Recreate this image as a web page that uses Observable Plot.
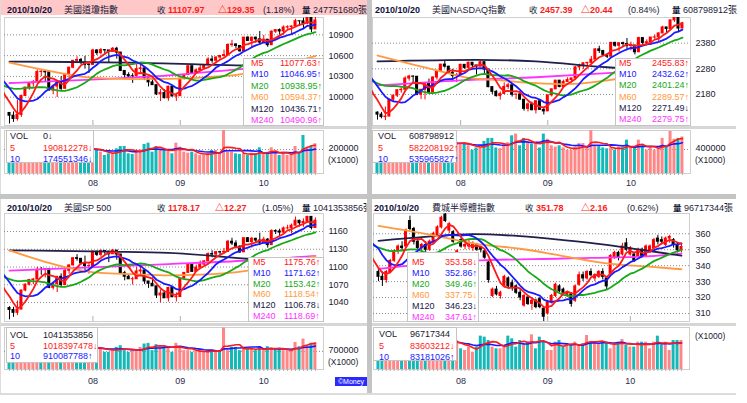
<!DOCTYPE html>
<html><head><meta charset="utf-8">
<script src="https://cdn.jsdelivr.net/npm/d3@7"></script>
<script src="https://cdn.jsdelivr.net/npm/@observablehq/plot@0.6"></script>
<style>
html,body{margin:0;padding:0;background:#fff;}
#root{position:relative;width:747px;height:403px;overflow:hidden;background:#fff;font-family:"Liberation Sans",Arial,"Noto Sans CJK TC",sans-serif;font-size:9px;color:#111;}
#root > *{position:absolute;}
.s{position:absolute;white-space:nowrap;}
</style></head><body><div id="root"></div>
<script>
// ---------- shared labels ----------
const DATE = "2010/10/20";
const MONTH_IDX = [21, 43, 64];
const MONTH_LABELS = ["08", "09", "10"];
const MA_NAMES = ["M5", "M10", "M20", "M60", "M120", "M240"];

// ---------- Dow Jones ----------
const djiHead = ["美國道瓊指數", "11107.97", "△129.35", "(1.18%)", "247751680張"];
const djiLegend = ["11077.63↑", "11046.95↑", "10938.95↑", "10594.37↑", "10436.71↑", "10490.96↑"];
const djiVLegend = ["0↓", "190812278↓", "174551346↓"];
const djiTicks = [10000, 10300, 10600, 10900];
const djiVTicks = [200000];
const djiPrior = [9931, 9816, 9940, 9899, 10172, 10211, 10191, 10405, 10409, 10434, 10450, 10443, 10294, 10298, 10153, 10144, 10138, 9870, 9774];
const djiOHLC = [
[9773,9775,9614,9733],[9733,9788,9637,9686],[9686,9957,9656,9744],[9744,10030,9710,10018],[10018,10144,10018,10139],
[10139,10208,10100,10198],[10198,10240,10146,10216],[10216,10394,10216,10363],[10363,10399,10296,10367],[10367,10380,10220,10359],
[10359,10359,10089,10098],[10098,10180,10035,10154],[10154,10241,9995,10230],[10230,10297,10095,10121],[10121,10344,10121,10322],
[10322,10433,10270,10425],[10425,10526,10410,10525],[10525,10584,10496,10538],[10538,10560,10470,10498],[10498,10590,10405,10467],
[10467,10500,10342,10466],[10466,10692,10466,10674],[10674,10686,10601,10636],[10636,10703,10610,10680],[10680,10680,10607,10675],
[10675,10675,10500,10654],[10654,10719,10650,10699],[10699,10720,10550,10644],[10644,10644,10370,10379],[10379,10379,10260,10320],
[10320,10353,10280,10303],[10303,10340,10200,10302],[10302,10480,10302,10406],[10406,10460,10350,10416],[10416,10416,10240,10271],
[10271,10271,10148,10214],[10214,10275,10170,10174],[10174,10174,10024,10040],[10040,10110,9937,10060],[10060,10110,9975,9986],
[9986,10160,9941,10151],[10151,10155,10009,10010],[10010,10060,9940,10015],[10015,10271,10015,10269],[10269,10320,10249,10320],
[10320,10448,10320,10448],[10448,10448,10334,10341],[10341,10410,10340,10387],[10387,10470,10387,10415],[10415,10467,10390,10463],
[10463,10570,10463,10544],[10544,10590,10490,10526],[10526,10580,10480,10573],[10573,10598,10530,10595],[10595,10680,10580,10608],
[10608,10770,10608,10754],[10754,10820,10720,10761],[10761,10770,10700,10739],[10739,10739,10650,10662],[10662,10860,10662,10860],
[10860,10873,10812,10812],[10812,10870,10710,10858],[10858,10870,10780,10835],[10835,10948,10750,10788],[10788,10890,10788,10830],
[10830,10830,10720,10751],[10751,10959,10751,10945],[10945,10975,10920,10968],[10968,10985,10895,10949],[10949,11029,10900,11006],
[11006,11030,10980,11010],[11010,11030,10900,11020],[11020,11124,11020,11096],[11096,11096,11020,11095],[11095,11140,10980,11063],
[11063,11157,11044,11144],[11144,11144,10930,10979],[10979,11160,10979,11108]];
const djiM60 = [[0,10500],[10,10380],[20,10285],[30,10262],[40,10265],[50,10290],[58,10330],[68,10460],[77,10594.37]];
const djiM120 = [[0,10514],[30,10500],[57,10460],[77,10436.71]];
const djiM240 = [[0,10205],[22,10257],[40,10314],[56,10395],[77,10490.96]];
const djiVol = [190000,170000,200000,230000,210000,180000,175000,215000,205000,220000,260000,200000,215000,225000,200000,185000,180000,195000,200000,210000,215000,205000,
191700,177800,150000,163900,163900,205600,225000,225000,163900,158300,177800,197200,241700,252800,177800,225000,191700,186100,191700,163900,252800,219400,177800,169400,177800,163900,150000,150000,163900,191700,191700,169400,360000,177800,177800,163900,158300,163900,150000,169400,163900,213900,163900,163900,213900,177800,150000,169400,150000,158300,225000,169400,316700,219400,225000,247752];

// ---------- NASDAQ ----------
const ixicHead = ["美國NASDAQ指數", "2457.39", "△20.44", "(0.84%)", "608798912張"];
const ixicLegend = ["2455.83↑", "2432.62↑", "2401.24↑", "2289.57↑", "2271.49↓", "2279.75↑"];
const ixicVLegend = ["608798912", "582208192↑", "535965827↑"];
const ixicTicks = [2180, 2280, 2380];
const ixicVTicks = [400000];
const ixicPrior = [2219.2, 2173.9, 2170.6, 2158.9, 2218.7, 2243.6, 2244.0, 2305.9, 2305.9, 2307.2, 2309.8, 2289.1, 2261.8, 2254.2, 2217.4, 2223.5, 2220.7, 2135.2, 2109.2];
const ixicOHLC = [
[2109.2,2112,2080,2101.4],[2101.4,2110,2085,2091.8],[2091.8,2131,2078,2093.9],[2093.9,2160,2093,2159.5],[2159.5,2176,2151,2175.4],
[2175.4,2197,2168,2196.5],[2196.5,2205,2185,2198.4],[2198.4,2249,2198,2242.0],[2242.0,2255,2232,2249.8],[2249.8,2252,2220,2249.1],
[2249.1,2249,2175,2179.1],[2179.1,2199,2160,2198.2],[2198.2,2223,2159,2222.5],[2222.5,2240,2185,2187.3],[2187.3,2250,2187,2245.9],
[2245.9,2271,2236,2269.5],[2269.5,2297,2265,2296.4],[2296.4,2311,2283,2288.3],[2288.3,2290,2262,2264.6],[2264.6,2278,2230,2251.7],
[2251.7,2262,2226,2254.7],[2254.7,2298,2254,2295.4],[2295.4,2297,2278,2283.5],[2283.5,2306,2279,2303.6],[2303.6,2304,2284,2293.1],
[2293.1,2293,2256,2288.5],[2288.5,2310,2288,2305.7],[2305.7,2306,2260,2277.2],[2277.2,2277,2206,2208.6],[2208.6,2210,2180,2190.3],
[2190.3,2195,2170,2173.5],[2173.5,2190,2158,2181.9],[2181.9,2225,2181,2209.4],[2209.4,2224,2200,2215.7],[2215.7,2218,2170,2179.0],
[2179.0,2181,2160,2179.8],[2179.8,2192,2158,2159.6],[2159.6,2160,2115,2123.8],[2123.8,2147,2112,2141.5],[2141.5,2150,2116,2118.7],
[2118.7,2155,2104,2153.6],[2153.6,2154,2119,2120.0],[2120.0,2125,2100,2114.0],[2114.0,2177,2114,2176.8],[2176.8,2201,2170,2200.0],
[2200.0,2235,2200,2233.8],[2233.8,2234,2206,2208.9],[2208.9,2236,2208,2228.9],[2228.9,2245,2228,2236.2],[2236.2,2243,2225,2242.5],
[2242.5,2288,2242,2285.7],[2285.7,2298,2272,2289.8],[2289.8,2304,2278,2301.3],[2301.3,2305,2292,2303.3],[2303.3,2328,2300,2315.6],
[2315.6,2358,2315,2355.8],[2355.8,2368,2340,2349.4],[2349.4,2352,2328,2334.4],[2334.4,2340,2320,2327.1],[2327.1,2382,2327,2381.2],
[2381.2,2383,2364,2369.8],[2369.8,2381,2345,2379.6],[2379.6,2384,2366,2376.6],[2376.6,2398,2356,2368.6],[2368.6,2384,2350,2370.8],
[2370.8,2371,2334,2344.5],[2344.5,2403,2344,2399.8],[2399.8,2401,2370,2380.7],[2380.7,2393,2369,2383.7],[2383.7,2402,2371,2401.9],
[2401.9,2412,2395,2402.3],[2402.3,2420,2385,2417.9],[2417.9,2446,2417,2441.2],[2441.2,2442,2420,2435.4],[2435.4,2470,2430,2468.8],
[2468.8,2481,2461,2480.7],[2480.7,2481,2423,2437.0],[2437.0,2461,2437,2457.4]];
const ixicM60 = [[0,2332],[15,2274],[23,2245],[31,2235],[40,2224],[48,2220],[58,2235],[68,2262],[77,2289.57]];
const ixicM120 = [[0,2309],[25,2315],[40,2309],[58,2286],[77,2271.49]];
const ixicM240 = [[0,2215],[21,2235],[40,2247],[58,2263],[77,2279.75]];
const ixicVol = [520000,450000,480000,560000,520000,470000,460000,540000,520000,530000,600000,500000,520000,560000,500000,480000,460000,490000,500000,510000,520000,500000,
498000,462000,390000,426000,426000,535000,585000,585000,426000,412000,462000,513000,628000,657000,462000,585000,498000,484000,498000,426000,657000,570000,462000,440000,462000,426000,390000,390000,426000,498000,498000,440000,716000,462000,462000,426000,412000,426000,390000,440000,426000,556000,426000,426000,556000,462000,390000,440000,390000,412000,585000,440000,700000,570000,585000,608799];

// ---------- S&P 500 ----------
const spxHead = ["美國SP 500", "1178.17", "△12.27", "(1.05%)", "1041353856張"];
const spxLegend = ["1175.76↑", "1171.62↑", "1153.42↑", "1118.54↑", "1106.78↓", "1118.69↑"];
const spxVLegend = ["1041353856", "1018397478↓", "910087788↑"];
const spxTicks = [1040, 1070, 1100, 1130, 1160];
const spxVTicks = [700000];
const spxPrior = [1064.9, 1050.5, 1062.0, 1055.7, 1086.8, 1091.6, 1089.6, 1115.2, 1114.6, 1116.0, 1117.5, 1113.2, 1095.3, 1092.0, 1073.7, 1076.8, 1074.6, 1041.2, 1030.7];
const spxOHLC = [
[1030.7,1033,1010.9,1027.4],[1027.4,1032,1015,1022.6],[1022.6,1042.5,1018,1028.1],[1028.1,1060.9,1028.1,1060.3],[1060.3,1071.3,1058.2,1070.3],
[1070.3,1078.2,1068,1078.0],[1078.0,1080.8,1070,1078.8],[1078.8,1099.5,1078.8,1095.3],[1095.3,1099.1,1086,1095.2],[1095.2,1097.5,1081.5,1096.5],
[1096.5,1096.5,1063.3,1064.9],[1064.9,1074.7,1061.1,1071.3],[1071.3,1083.9,1056.9,1083.5],[1083.5,1088.5,1065.3,1069.6],[1069.6,1097.5,1069.6,1093.7],
[1093.7,1103.7,1087.9,1102.7],[1102.7,1115,1101.8,1115.0],[1115.0,1120.9,1109.8,1113.8],[1113.8,1114.7,1103.1,1106.1],[1106.1,1118.4,1092.1,1101.5],
[1101.5,1106.4,1088,1101.6],[1101.6,1127.3,1101.6,1125.9],[1125.9,1126.6,1117.6,1120.5],[1120.5,1128.8,1116.9,1127.2],[1127.2,1127.3,1119.5,1125.8],
[1125.8,1126.6,1107.4,1121.6],[1121.6,1129.6,1120.9,1127.8],[1127.8,1127.8,1111.6,1121.1],[1121.1,1121.1,1088.1,1089.5],[1089.5,1092.8,1076.7,1083.6],
[1083.6,1086.3,1079,1079.3],[1079.3,1082.6,1069.6,1079.4],[1079.4,1099.8,1079.4,1092.5],[1092.5,1099.7,1085.4,1094.2],[1094.2,1094.2,1070.6,1075.6],
[1075.6,1075.6,1063.9,1071.7],[1071.7,1081.6,1067.1,1067.4],[1067.4,1067.4,1046.7,1051.9],[1051.9,1061.5,1039.7,1055.3],[1055.3,1059.7,1046.9,1047.2],
[1047.2,1065.9,1040.9,1064.6],[1064.6,1064.6,1048.8,1048.9],[1048.9,1056.4,1040.9,1049.3],[1049.3,1081.3,1049.3,1080.3],[1080.3,1090.1,1080.3,1090.1],
[1090.1,1105.1,1090.1,1104.5],[1104.5,1104.5,1091.5,1091.8],[1091.8,1103.3,1091.8,1098.9],[1098.9,1110.3,1098.9,1104.2],[1104.2,1110.9,1101.9,1109.6],
[1109.6,1123.9,1109.6,1121.9],[1121.9,1127.4,1115.6,1121.1],[1121.1,1126.3,1114.6,1125.1],[1125.1,1126.5,1118.8,1124.7],[1124.7,1131.5,1122.4,1125.6],
[1125.6,1144.9,1125.6,1142.7],[1142.7,1148.6,1136.2,1139.8],[1139.8,1144.4,1131.6,1134.3],[1134.3,1136.1,1122.8,1124.8],[1124.8,1148.9,1124.8,1148.7],
[1148.7,1149.9,1142,1142.2],[1142.2,1150,1132.1,1147.7],[1147.7,1148.6,1140.3,1144.7],[1144.7,1157.2,1136.1,1141.2],[1141.2,1150.3,1139.4,1146.2],
[1146.2,1148.2,1131.9,1137.0],[1137.0,1162.8,1137.0,1160.8],[1160.8,1162.9,1154.9,1160.0],[1160.0,1163.9,1151.4,1158.1],[1158.1,1167.7,1155.6,1165.2],
[1165.2,1170.6,1162.7,1165.3],[1165.3,1172.6,1155.7,1169.8],[1169.8,1184.4,1169.8,1178.1],[1178.1,1178.9,1167.7,1173.8],[1173.8,1181.2,1167.1,1176.2],
[1176.2,1185.5,1174.6,1184.7],[1184.7,1184.7,1162.6,1165.9],[1165.9,1182.9,1165.9,1178.2]];
const spxM60 = [[0,1128],[14,1100],[23,1090],[31,1088],[40,1086],[48,1087],[60,1094],[70,1108],[77,1118.54]];
const spxM120 = [[0,1128],[25,1126],[40,1124],[60,1114],[77,1106.78]];
const spxM240 = [[0,1094],[22,1100],[40,1105],[60,1111],[77,1118.69]];
const spxVol = [850000,780000,800000,880000,820000,720000,700000,860000,880000,900000,1000000,820000,870000,900000,860000,800000,760000,820000,840000,830000,800000,860000,840000,
828800,663100,663100,752300,854300,918000,726800,663100,726800,726800,854300,981800,1007300,726800,956300,918000,918000,854300,663100,1007300,879800,726800,726800,663100,701300,726800,663100,701300,726800,726800,726800,1600000,726800,854300,854300,726800,854300,790500,790500,726800,854300,726800,879800,828800,752300,828800,726800,726800,701300,1045600,879800,1173000,918000,981800,1041354];

// ---------- Philadelphia Semiconductor ----------
const soxHead = ["費城半導體指數", "351.78", "△2.16", "(0.62%)", "96717344張"];
const soxLegend = ["353.58↓", "352.86↑", "349.46↑", "337.75↓", "346.23↓", "347.61↑"];
const soxVLegend = ["96717344", "83603212↓", "83181026↑"];
const soxTicks = [310, 320, 330, 340, 350, 360];
const soxVTicks = [];
const soxPrior = [348, 352, 355, 350, 346, 349, 354, 357, 356, 353, 372, 368, 365, 358, 352, 346, 340, 338, 336];
const soxOHLC = [
[336,338,330,333],[333,336,327,331],[331,337,329,336],[336,344,335,343],[343,350,342,349],
[349,353,347,352],[352,355,349,351],[352,363,351,362],[368,371,362,363],[363,364,353,355],
[355,357,349,351],[351,354,348,353],[353,355,348,350],[350,356,349,355],[355,361,354,360],
[359,365,358,364],[364,371,363,370],[372,374,367,368],[362,367,360,366],[361,362,354,355],
[348,350,346,349],[356,358,351,352],[352,355,350,353],[352,356,350,354],[351,355,349,353],
[353,354,349,350],[351,352,348,350],[349,350,344,345],[342,343,329,331],[321,326,320,325],
[325,327,321,322],[321,324,319,323],[327,334,326,333],[332,333,326,327],[329,331,324,326],
[327,328,322,323],[323,325,318,320],[315,322,314,321],[320,321,315,316],[316,319,312,318],
[318,319,313,314],[319,320,313,314],[313,314,305,308],[310,318,309,317],[317,322,316,321],
[321,329,320,328],[327,328,323,324],[325,326,322,323],[321,324,320,323],[322,323,314,316],
[318,328,317,327],[328,336,327,334],[334,336,330,332],[332,337,331,336],[336,338,333,334],
[332,335,330,334],[333,337,332,336],[336,338,331,333],[332,333,325,327],[335,347,334,346],
[345,349,344,348],[348,349,343,345],[347,354,346,352],[354,357,349,350],[347,352,346,351],
[347,348,342,343],[346,351,345,350],[350,351,345,346],[346,353,345,352],[349,353,348,352],
[351,357,350,356],[357,359,353,355],[356,358,353,355],[353,358,352,357],[357,359,354,358],
[356,357,351,353],[353,354,348,349.62],[349.62,353.5,348,351.78]];
const soxM60 = [[0,365],[12,360],[24,354],[36,350.6],[47,346],[58,341.5],[68,339.5],[77,337.75]];
const soxM120 = [[0,355.6],[12,358],[24,359.8],[36,358.5],[47,356],[58,353],[68,349.5],[77,346.23]];
const soxM240 = [[0,338],[10,340.5],[24,343.1],[47,344.5],[68,345.8],[77,347.61]];
const soxVol = [92000,85000,88000,95000,90000,86000,92000,98000,94000,90000,102000,88000,84000,90000,96000,93000,87000,91000,89000,94000,
96700,68900,63400,74500,57800,74500,111200,107800,96700,74500,68900,68900,74500,111200,102300,74500,96700,85600,91150,115600,68900,107800,91150,63400,63400,91150,96700,74500,82300,80000,91150,80000,85600,113400,91150,91150,85600,91150,91150,68900,85600,91150,100000,80000,74500,74500,91150,91150,91150,68900,91150,111200,80000,91150,63400,96700,96700,96717];

// ---------- styling / layout ----------
const X_DOMAIN = [-1.26, 79.04];
const UP = "#ff0000", DOWN = "#000000", VUP = "#ff8686", VDN = "#13b8b8";
const MA_COLORS = ["#ff1a1a", "#1a1aff", "#18a818", "#ff9a40", "#20204a", "#ff33ff"];
const AXIS_STYLE = "background:transparent;font-family:'Liberation Sans',Arial,sans-serif;font-size:9px;color:#1a1a30;overflow:visible;";

const panels = [
  {head: djiHead, legend: djiLegend, vlegend: djiVLegend, ticks: djiTicks, vticks: djiVTicks, prior: djiPrior, ohlc: djiOHLC, m60: djiM60, m120: djiM120, m240: djiM240, vol: djiVol,
   yDomain: [9592, 11150], vMax: 358333,
   L: {hx: 0, hy: 0, hw: 367, hbg: "#ffc8c8", ht: 2, hxs: [7, 64, 157, 168, 218, 263, 302, 313],
       fx1: 4, fx2: 323, fy1: 17, fy2: 125, vy1: 130, vy2: 173, tp: 5, xpad: 6, sepY: 126, sepW: 367, xk: 159.5,
       lg: {x: 243, y: 58, w: 81, h: 68, lx: 7, vx: 36, r0: 5, step: 11.4},
       vlg: {x: 6, y: 130, w: 88, h: 33, lx: 3, vx: 36, r0: 6, step: 11.5}}},
  {head: ixicHead, legend: ixicLegend, vlegend: ixicVLegend, ticks: ixicTicks, vticks: ixicVTicks, prior: ixicPrior, ohlc: ixicOHLC, m60: ixicM60, m120: ixicM120, m240: ixicM240, vol: ixicVol,
   yDomain: [2059, 2480], vMax: 716667,
   L: {hx: 372, hy: 0, hw: 375, hbg: "#ffffff", ht: 2, hxs: [3, 60, 157, 168, 209, 256, 300, 311],
       fx1: 372, fx2: 690, fy1: 17, fy2: 125, vy1: 130, vy2: 173, tp: 5, xpad: 6, sepY: 126, sepW: 364, xk: 159.5,
       lg: {x: 615, y: 58, w: 76, h: 68, lx: 3, vx: 36, r0: 5, step: 11.2},
       vlg: {x: 372, y: 130, w: 85, h: 33, lx: 5, vx: 36, r0: 6, step: 11.5}}},
  {head: spxHead, legend: spxLegend, vlegend: spxVLegend, ticks: spxTicks, vticks: spxVTicks, prior: spxPrior, ohlc: spxOHLC, m60: spxM60, m120: spxM120, m240: spxM240, vol: spxVol,
   yDomain: [1008, 1190.4], vMax: 1620000,
   L: {hx: 0, hy: 199, hw: 367, hbg: "#ffffff", ht: 1, hxs: [7, 64, 157, 168, 215, 262, 302, 313],
       fx1: 4, fx2: 323, fy1: 213, fy2: 321, vy1: 327, vy2: 369, tp: 5, xpad: 8, sepY: 323, sepW: 367, xk: 361.5,
       lg: {x: 248, y: 257, w: 76, h: 65, lx: 4, vx: 35, r0: 5, step: 10.8},
       vlg: {x: 6, y: 327, w: 92, h: 36, lx: 3, vx: 36, r0: 8, step: 10.5}}},
  {head: soxHead, legend: soxLegend, vlegend: soxVLegend, ticks: soxTicks, vticks: soxVTicks, prior: soxPrior, ohlc: soxOHLC, m60: soxM60, m120: soxM120, m240: soxM240, vol: soxVol,
   yDomain: [305, 372.7], vMax: 140000,
   L: {hx: 372, hy: 199, hw: 375, hbg: "#ffffff", ht: 1, hxs: [2, 60, 153, 164, 209, 255, 301, 312],
       fx1: 373, fx2: 689, fy1: 213, fy2: 321, vy1: 327, vy2: 369, tp: 6, xpad: 8, sepY: 323, sepW: 364, xk: 336,
       lg: {x: 407, y: 252, w: 72, h: 70, lx: 4, vx: 37, r0: 10, step: 11},
       vlg: {x: 373, y: 327, w: 84, h: 34, lx: 5, vx: 36, r0: 7, step: 11.5}}}
];

const root = document.getElementById("root");
function add(css, text) {
  const e = document.createElement("div");
  e.style.cssText = css;
  if (text != null) e.textContent = text;
  root.appendChild(e);
  return e;
}
function sub(parent, css, text) {
  const e = document.createElement("div");
  e.className = "s";
  e.style.cssText = css;
  e.textContent = text;
  parent.appendChild(e);
  return e;
}
function place(svg, left, top) {
  svg.style.position = "absolute";
  svg.style.left = left + "px";
  svg.style.top = top + "px";
  root.appendChild(svg);
}

function build(p) {
  const L = p.L;
  const rows = p.ohlc.map((d, i) => ({i, open: d[0], high: d[1], low: d[2], close: d[3]}));
  const isUp = d => d.close >= d.open;
  const closes = p.prior.map((c, k) => ({i: k - p.prior.length, close: c}))
    .concat(rows.map(d => ({i: d.i, close: d.close})));
  const vrows = p.vol.map((v, i) => ({i, v, up: isUp(rows[i])}));
  const W = L.fx2 - L.fx1, H = L.fy2 - L.fy1, VH = L.vy2 - L.vy1;

  // header
  const hdr = add(`left:${L.hx}px;top:${L.hy}px;width:${L.hw}px;height:15px;background:${L.hbg};overflow:hidden;`);
  const items = [
    [DATE, "font-weight:bold;color:#10103a;"],
    [p.head[0], "color:#1a1a3a;"],
    ["收", "color:#1a1a3a;font-size:8.5px;"],
    [p.head[1], "font-weight:bold;color:#ff1a1a;"],
    [p.head[2], "font-weight:bold;color:#ff1a1a;"],
    [p.head[3], "color:#1a1a3a;"],
    ["量", "font-weight:bold;color:#1a1a3a;font-size:8.5px;"],
    [p.head[4], "color:#1a1a3a;"]
  ];
  items.forEach((it, k) => sub(hdr, `left:${L.hxs[k]}px;top:${L.ht}px;line-height:16px;${it[1]}`, it[0]));

  // price chart
  const price = Plot.plot({
    width: W + 47, height: H + 2,
    marginLeft: 1, marginRight: 46, marginTop: 1, marginBottom: 1,
    style: AXIS_STYLE,
    x: {domain: X_DOMAIN, axis: null},
    y: {domain: p.yDomain},
    marks: [
      Plot.frame({stroke: "#cfcfcf"}),
      Plot.gridY(p.ticks, {stroke: "#8c8c8c", strokeOpacity: 1, strokeDasharray: "1,2"}),
      Plot.ruleX(MONTH_IDX, {x: d => d, stroke: "#b0b0b0", insetTop: H - 5}),
      Plot.ruleX(rows, {x: "i", y1: "low", y2: "high", stroke: d => isUp(d) ? UP : DOWN, strokeWidth: 1, clip: true}),
      Plot.rect(rows, {x1: d => d.i - 0.38, x2: d => d.i + 0.38, y1: "open", y2: "close",
        fill: d => isUp(d) ? UP : DOWN, insetTop: -0.5, insetBottom: -0.5, clip: true}),
      Plot.line(p.m240, {x: d => d[0], y: d => d[1], stroke: MA_COLORS[5], strokeWidth: 1.8, curve: "monotone-x", clip: true}),
      Plot.line(p.m120, {x: d => d[0], y: d => d[1], stroke: MA_COLORS[4], strokeWidth: 1.8, curve: "monotone-x", clip: true}),
      Plot.line(p.m60, {x: d => d[0], y: d => d[1], stroke: MA_COLORS[3], strokeWidth: 1.8, curve: "monotone-x", clip: true}),
      Plot.lineY(closes, Plot.windowY({k: 20, anchor: "end"}, {x: "i", y: "close", stroke: MA_COLORS[2], strokeWidth: 1.8, clip: true})),
      Plot.lineY(closes, Plot.windowY({k: 10, anchor: "end"}, {x: "i", y: "close", stroke: MA_COLORS[1], strokeWidth: 1.8, clip: true})),
      Plot.lineY(closes, Plot.windowY({k: 5, anchor: "end"}, {x: "i", y: "close", stroke: MA_COLORS[0], strokeWidth: 1.8, clip: true})),
      Plot.axisY(p.ticks, {anchor: "right", tickSize: 0, tickPadding: L.tp, tickFormat: d => String(d), label: null})
    ]
  });
  place(price, L.fx1 - 1, L.fy1 - 1);

  // price legend
  const lg = add(`left:${L.lg.x}px;top:${L.lg.y}px;width:${L.lg.w}px;height:${L.lg.h}px;background:#fff;border:1px solid #c4c4c4;box-sizing:border-box;`);
  MA_NAMES.forEach((n, k) => {
    const top = L.lg.r0 + k * L.lg.step - 7;
    const c = MA_COLORS[k];
    sub(lg, `left:${L.lg.lx}px;top:${top}px;line-height:12px;color:${c};`, n);
    sub(lg, `left:${L.lg.vx}px;top:${top}px;line-height:12px;color:${c};`, p.legend[k]);
  });

  // separator between price and volume
  add(`left:${L.hx}px;top:${L.sepY}px;width:${L.sepW}px;height:3px;background:#d6d6d6;`);

  // volume chart
  const volume = Plot.plot({
    width: W + 47, height: VH + 1 + 20,
    marginLeft: 1, marginRight: 46, marginTop: 1, marginBottom: 20,
    style: AXIS_STYLE,
    x: {domain: X_DOMAIN},
    y: {domain: [0, p.vMax]},
    marks: [
      Plot.frame({stroke: "#cfcfcf"}),
      Plot.gridY(p.vticks, {stroke: "#8c8c8c", strokeOpacity: 1, strokeDasharray: "1,2"}),
      Plot.rect(vrows, {x1: d => d.i - 0.38, x2: d => d.i + 0.38, y1: 0, y2: "v",
        fill: d => d.up ? VUP : VDN, clip: true}),
      Plot.lineY(vrows, Plot.windowY({k: 10, anchor: "end"}, {x: "i", y: "v", stroke: "#1a1aff", strokeWidth: 1.6, clip: true})),
      Plot.lineY(vrows, Plot.windowY({k: 5, anchor: "end"}, {x: "i", y: "v", stroke: "#ff1a1a", strokeWidth: 1.6, clip: true})),
      Plot.axisY(p.vticks, {anchor: "right", tickSize: 0, tickPadding: L.tp, tickFormat: d => String(d), label: null, dy: -1}),
      Plot.axisX(rows.map(d => d.i), {anchor: "bottom", tickSize: 2, tickFormat: () => "", stroke: "#b0b0b0", label: null}),
      Plot.axisX(MONTH_IDX, {anchor: "bottom", tickSize: 0, tickPadding: L.xpad,
        tickFormat: d => MONTH_LABELS[MONTH_IDX.indexOf(d)], label: null, fill: "#2a2a4a"})
    ]
  });
  place(volume, L.fx1 - 1, L.vy1 - 1);

  // volume legend
  const vlg = add(`left:${L.vlg.x}px;top:${L.vlg.y}px;width:${L.vlg.w}px;height:${L.vlg.h}px;background:#fff;border:1px solid #c4c4c4;box-sizing:border-box;`);
  const vnames = ["VOL", "5", "10"], vcols = ["#1a1a30", "#ff1a1a", "#1a1aff"];
  vnames.forEach((n, k) => {
    const top = L.vlg.r0 + k * L.vlg.step - 7;
    sub(vlg, `left:${L.vlg.lx}px;top:${top}px;line-height:12px;color:${vcols[k]};`, n);
    sub(vlg, `left:${L.vlg.vx}px;top:${top}px;line-height:12px;color:${vcols[k]};`, p.vlegend[k]);
  });
  add(`left:${L.fx2 + L.tp}px;top:${L.xk - 5}px;line-height:10px;font-size:8.5px;color:#1a1a30;white-space:nowrap;`, "(X1000)");
}

panels.forEach(build);

// panel separators
add("left:0;top:0;width:1px;height:395px;background:#dcdcdc;");
add("left:367px;top:0;width:5px;height:395px;background:#c4c4c4;");
add("left:0;top:194px;width:736px;height:5px;background:#c4c4c4;");
add("left:0;top:393px;width:736px;height:2px;background:#dcdcdc;");
add("left:335px;top:377px;width:32px;height:9px;background:#2a2aff;color:#fff;font-size:7px;line-height:9px;text-align:center;white-space:nowrap;overflow:hidden;", "©Money");
</script></body></html>
